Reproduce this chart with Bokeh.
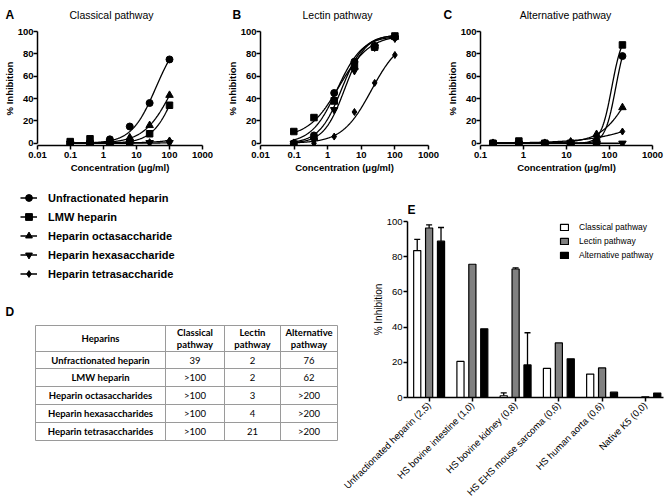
import numpy as np
from bokeh.plotting import figure
from bokeh.layouts import row, column
from bokeh.models import (Range1d, FixedTicker, Legend, LegendItem,
                          Whisker, TeeHead, ColumnDataSource)
from bokeh.embed import file_html
from bokeh.resources import INLINE
from bokeh.core.properties import value

FONT = "Liberation Sans"
TABLE_FONT = "Lato"

# ---------------- data: panels A-C ----------------
panel_letters = ["A", "B", "C"]
panel_titles = ["Classical pathway", "Lectin pathway", "Alternative pathway"]
series_names = ["Unfractionated heparin", "LMW heparin", "Heparin octasaccharide",
                "Heparin hexasaccharide", "Heparin tetrasaccharide"]
series_markers = ["circle", "square", "triangle", "inverted_triangle", "diamond"]
marker_sizes = [7, 6.5, 7.5, 7.5, 7]

conc_AB = [0.098, 0.39, 1.56, 6.25, 25, 100]
conc_C = [0.195, 0.78, 3.125, 12.5, 50, 200]

classical_ufh = [0, 1, 3.5, 15, 36, 75]
classical_lmw = [1.5, 4, 0.5, 0.5, 8.5, 34]
classical_octa = [0, 0.5, 1, 5, 16, 43]
classical_hexa = [0, 0, 0, 0, 0.5, 0.5]
classical_tetra = [0, 0.5, 0.5, 2, 1, 2.5]

lectin_ufh = [0, 7, 45, 73, 87, 95]
lectin_lmw = [10.5, 23, 38, 70, 86, 96]
lectin_octa = [0, 5, 37, 68, 87, 95]
lectin_hexa = [0, 3, 30, 65, 86, 94]
lectin_tetra = [0, 0, 6, 28, 54, 79]

alternative_ufh = [0, 0, 0, 0, 0.5, 78]
alternative_lmw = [0, 2, 0, 0, 1, 88]
alternative_octa = [0, 0, 0, 0.5, 8, 32]
alternative_hexa = [0, 0, 0, 0, 0, 0]
alternative_tetra = [0, 0, 0, 2, 5, 10.5]

# fitted curves: (bottom, top, IC50, Hill slope)
classical_fits = [(0, 100, 39, 1.17), (0, 100, 170, 1.24), (0, 100, 133, 1.0),
                  (0, 100, 20000, 1.0), (0, 100, 18700, 0.7)]
lectin_fits = [(0, 96, 1.9, 1.15), (5, 97, 2.2, 0.95), (0, 97, 2.6, 1.3),
               (0, 97, 3.2, 1.4), (0, 95, 20, 1.0)]
alternative_fits = [(0, 100, 140, 3.5), (0, 100, 113, 3.5), (0, 100, 371, 1.22),
                    (0, 100, 1e6, 1.0), (0, 100, 7960, 0.58)]

ticks_AB = [0.01, 0.1, 1, 10, 100, 1000]
tick_labels_AB = ["0.01", "0.1", "1", "10", "100", "1000"]
ticks_C = [0.1, 1, 10, 100, 1000]
tick_labels_C = ["0.1", "1", "10", "100", "1000"]
y_ticks = [0, 20, 40, 60, 80, 100]

# ---------------- data: table D ----------------
tbl_headers = ["Heparins", "Classical\npathway", "Lectin\npathway", "Alternative\npathway"]
tbl_heparins = ["Unfractionated heparin", "LMW heparin", "Heparin octasaccharides",
                "Heparin hexasaccharides", "Heparin tetrasaccharides"]
tbl_classical = ["39", ">100", ">100", ">100", ">100"]
tbl_lectin = ["2", "2", "3", "4", "21"]
tbl_alternative = ["76", "62", ">200", ">200", ">200"]

# ---------------- data: panel E ----------------
e_categories = ["Unfractionated heparin (2,5)", "HS bovine intestine (1,0)",
                "HS bovine kidney (0,8)", "HS EHS mouse sarcoma (0,6)",
                "HS human aorta (0,6)", "Native K5 (0,0)"]
e_classical = [83.5, 20.5, 1.0, 16.5, 13.3, 0.0]
e_lectin = [96.3, 75.7, 73.0, 31.0, 16.8, 0.4]
e_alternative = [88.8, 39.0, 18.5, 22.0, 3.0, 2.5]
e_classical_err = [6.3, 0, 1.6, 0, 0, 0]
e_lectin_err = [1.8, 0, 0.7, 0, 0, 0]
e_alternative_err = [7.8, 0, 18.3, 0, 0, 0]
e_series = ["Classical pathway", "Lectin pathway", "Alternative pathway"]
e_colors = ["white", "#808080", "black"]

W = 669
STRIP_H = 22
PLOT_H = 158


def blank_fig(w, h, left=0, right=0):
    f = figure(width=w, height=h, x_range=Range1d(0, w - left - right), y_range=Range1d(h, 0),
               x_axis_type=None, y_axis_type=None, min_border=0, title=None,
               min_border_left=left, min_border_right=right,
               output_backend="svg", toolbar_location=None)
    f.outline_line_color = None
    return f


def style_axis(ax, size, bold):
    ax.axis_line_width = 1.5
    ax.major_tick_line_width = 1.5
    ax.major_tick_in = 0
    ax.major_tick_out = 4
    ax.minor_tick_line_color = None
    ax.major_label_text_font = FONT
    ax.major_label_text_font_size = size
    ax.major_label_text_font_style = "bold" if bold else "normal"
    ax.major_label_text_color = "black"
    ax.axis_label_text_font = FONT
    ax.axis_label_text_font_style = "bold" if bold else "normal"
    ax.axis_label_text_color = "black"


def dose_panel(conc, values, fits, x_start, x_end, ticks, tick_labels,
               width, border_left, border_right):
    p = figure(width=width, height=PLOT_H, x_axis_type="log",
               x_range=Range1d(x_start, x_end), y_range=Range1d(-2, 100),
               output_backend="svg", toolbar_location=None, title=None,
               min_border_left=border_left, min_border_right=border_right,
               min_border_top=9, min_border_bottom=35)
    p.outline_line_color = None
    p.grid.visible = False
    curve_x = np.logspace(np.log10(conc[0]), np.log10(conc[-1]), 200)
    for vals, fit, marker, msize in zip(values, fits, series_markers, marker_sizes):
        b, t, ic, h = fit
        p.line(curve_x, b + (t - b) / (1 + (ic / curve_x) ** h),
               line_color="black", line_width=1.3)
        p.scatter(conc, vals, marker=marker, size=msize, color="black")
    style_axis(p.xaxis[0], "9.5px", True)
    style_axis(p.yaxis[0], "9.5px", True)
    p.xaxis.ticker = FixedTicker(ticks=ticks)
    p.xaxis.major_label_overrides = {t: l for t, l in zip(ticks, tick_labels)}
    p.xaxis.axis_label = "Concentration (μg/ml)"
    p.xaxis.axis_label_text_font_size = "9.5px"
    p.xaxis.major_label_standoff = 2
    p.xaxis.axis_label_standoff = 1
    p.yaxis.ticker = FixedTicker(ticks=y_ticks)
    p.yaxis.bounds = (0, 100)
    p.yaxis.axis_label = "% Inhibition"
    p.yaxis.axis_label_text_font_size = "9.5px"
    p.yaxis.major_label_standoff = 0
    p.yaxis.axis_label_standoff = 0
    return p


pA = dose_panel(conc_AB, [classical_ufh, classical_lmw, classical_octa, classical_hexa, classical_tetra],
                classical_fits, 0.01, 1000, ticks_AB, tick_labels_AB, 222, 34, 20)
pB = dose_panel(conc_AB, [lectin_ufh, lectin_lmw, lectin_octa, lectin_hexa, lectin_tetra],
                lectin_fits, 0.01, 1000, ticks_AB, tick_labels_AB, 220, 38, 14)
pC = dose_panel(conc_C, [alternative_ufh, alternative_lmw, alternative_octa, alternative_hexa,
                         alternative_tetra],
                alternative_fits, 0.1, 1000, ticks_C, tick_labels_C, 227, 38, 17)

# header strip with panel letters and titles
LETTER_X = [5, 232, 443]
TITLE_X = [111, 337, 565]
header = blank_fig(W, STRIP_H)
header.text(x=LETTER_X, y=[7] * 3, text=panel_letters, text_font=value(FONT),
            text_font_style="bold", text_font_size="12px", text_align="left",
            text_baseline="top", text_color="black")
header.text(x=TITLE_X, y=[14] * 3, text=panel_titles, text_font=value(FONT),
            text_font_size="10.5px", text_align="center", text_baseline="middle",
            text_color="black")

# ---------------- legend for A-C ----------------
LW, LH = 338, 115
lp = blank_fig(LW, LH)
items = []
for name, marker, msize, vals in zip(series_names, series_markers, marker_sizes,
                                     [classical_ufh, classical_lmw, classical_octa,
                                      classical_hexa, classical_tetra]):
    rl = lp.line(x=conc_AB, y=vals, line_color="black", line_width=1.5, visible=False)
    rs = lp.scatter(x=conc_AB, y=vals, marker=marker, size=msize, color="black", visible=False)
    items.append(LegendItem(label=name, renderers=[rl, rs]))
lp.add_layout(Legend(items=items, location=(20, 13), glyph_width=17, glyph_height=17,
                     label_height=17, spacing=2, label_standoff=11, padding=0, margin=0,
                     border_line_color=None, background_fill_alpha=0,
                     inactive_fill_alpha=0,
                     label_text_font=FONT, label_text_font_style="bold",
                     label_text_font_size="11px", label_text_color="black"))

# ---------------- table D ----------------
TW, TH = LW, 504 - 180 - LH
TABLE_COLS = [35, 165, 224, 280, 337]
TABLE_ROWS = [30, 56, 73, 91, 109, 127, 145]
tp = blank_fig(TW, TH)
n_r, n_c = len(TABLE_ROWS), len(TABLE_COLS)
tp.segment(x0=[TABLE_COLS[0]] * n_r, x1=[TABLE_COLS[-1]] * n_r, y0=TABLE_ROWS, y1=TABLE_ROWS,
           line_color="#9a9a9a", line_width=1)
tp.segment(x0=TABLE_COLS, x1=TABLE_COLS, y0=[TABLE_ROWS[0]] * n_c, y1=[TABLE_ROWS[-1]] * n_c,
           line_color="#9a9a9a", line_width=1)
col_mid = [(a + b) / 2 for a, b in zip(TABLE_COLS[:-1], TABLE_COLS[1:])]
row_mid = [(a + b) / 2 for a, b in zip(TABLE_ROWS[:-1], TABLE_ROWS[1:])]
tp.text(x=col_mid, y=[row_mid[0]] * 4, text=tbl_headers, text_font=value(TABLE_FONT),
        text_font_style="bold", text_font_size="9.5px", text_align="center",
        text_baseline="middle", text_color="black", text_line_height=1.15)
tp.text(x=[col_mid[0]] * 5, y=row_mid[1:], text=tbl_heparins, text_font=value(TABLE_FONT),
        text_font_style="bold", text_font_size="9.5px", text_align="center",
        text_baseline="middle", text_color="black")
for ci, colvals in zip(col_mid[1:], [tbl_classical, tbl_lectin, tbl_alternative]):
    tp.text(x=[ci] * 5, y=row_mid[1:], text=colvals, text_font=value(TABLE_FONT),
            text_font_size="9.5px", text_align="center", text_baseline="middle",
            text_color="black")
tp.text(x=[5], y=[9], text=["D"], text_font=value(FONT), text_font_style="bold",
        text_font_size="12px", text_align="left", text_baseline="top", text_color="black")

# ---------------- panel E ----------------
EW = W - LW
E_STRIP = 36
EH = 504 - 180 - E_STRIP
E_LEFT, E_RIGHT = 69, 6
sE = blank_fig(EW, E_STRIP, E_LEFT, E_RIGHT)
sE.text(x=[0], y=[29], text=["E"], text_font=value(FONT), text_font_style="bold",
        text_font_size="12px", text_align="left", text_baseline="middle", text_color="black")

pE = figure(width=EW, height=EH, x_range=Range1d(-0.5, 5.42), y_range=Range1d(0, 100),
            output_backend="svg", toolbar_location=None, title=None,
            min_border_left=E_LEFT, min_border_right=E_RIGHT, min_border_top=5,
            min_border_bottom=101)
pE.outline_line_color = None
pE.grid.visible = False
xpos = np.arange(len(e_categories))
offsets = [-0.275, 0.0, 0.275]
renderers = []
for off, vals, errs, col in zip(offsets, [e_classical, e_lectin, e_alternative],
                                [e_classical_err, e_lectin_err, e_alternative_err], e_colors):
    r = pE.vbar(x=xpos + off, top=vals, width=0.165, fill_color=col,
                line_color="black", line_width=1.2)
    renderers.append(r)
    keep = [i for i, e in enumerate(errs) if e > 0]
    src = ColumnDataSource(dict(base=[xpos[i] + off for i in keep],
                                lower=[vals[i] for i in keep],
                                upper=[vals[i] + errs[i] for i in keep]))
    pE.add_layout(Whisker(base="base", lower="lower", upper="upper", source=src,
                          dimension="height", line_width=1.3, line_color="black",
                          lower_head=None,
                          upper_head=TeeHead(size=6, line_width=1.3, line_color="black")))
style_axis(pE.xaxis[0], "9.5px", False)
style_axis(pE.yaxis[0], "9.5px", False)
pE.xaxis.ticker = FixedTicker(ticks=list(range(len(e_categories))))
pE.xaxis.major_label_overrides = {i: c for i, c in enumerate(e_categories)}
pE.xaxis.major_label_orientation = np.pi / 4
pE.xaxis.major_label_standoff = 2
pE.yaxis.ticker = FixedTicker(ticks=y_ticks)
pE.yaxis.axis_label = "% Inhibition"
pE.yaxis.axis_label_text_font_size = "10px"
pE.yaxis.major_label_standoff = 1
pE.yaxis.axis_label_standoff = 0
pE.add_layout(Legend(items=[LegendItem(label=s, renderers=[r]) for s, r in zip(e_series, renderers)],
                     location=(152, 137), glyph_width=10, glyph_height=8, label_height=8,
                     spacing=4, label_standoff=10, padding=0, margin=0,
                     border_line_color=None, background_fill_alpha=0,
                     label_text_font=FONT, label_text_font_size="8.5px",
                     label_text_color="black"))

layout = column(header, row(pA, pB, pC),
                row(column(lp, tp), column(sE, pE)))

with open("out.html", "w") as f:
    f.write(file_html(layout, INLINE))
